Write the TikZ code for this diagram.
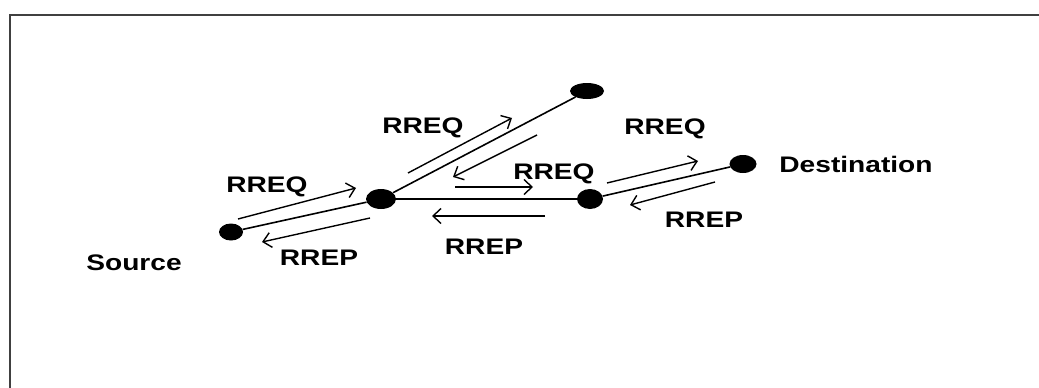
\documentclass[tikz,border=0pt]{standalone}
\usepackage{fontspec}
\newfontfamily\lblfont[FakeStretch=1.25]{Liberation Sans}
\usetikzlibrary{shapes.geometric,arrows.meta}

\tikzset{
  dot/.style={shape=ellipse, fill=black, inner sep=0pt},
  link/.style={line width=1.6pt},
  msg/.style={line width=1.4pt, -{Straight Barb[length=8pt,width=15pt]}},
  lbl/.style={font=\lblfont\bfseries\fontsize{22.5}{22.5}\selectfont,
              inner sep=0pt, text height=16.1pt, text depth=0pt, anchor=center},
}

\begin{document}
\begin{tikzpicture}[x=1pt, y=-1pt]
\useasboundingbox (0,0) rectangle (1039,388);

% frame: top and left edges only
\draw[line width=2.4pt, black!75] (9.7,388) -- (9.7,14.7) -- (1039,14.7);

% network nodes
\node[dot, minimum width=24pt, minimum height=17pt] (src)  at (231,232) {};
\node[dot, minimum width=30pt, minimum height=20pt] (a)    at (381,199) {};
\node[dot, minimum width=34pt, minimum height=16pt] (top)  at (587,91)  {};
\node[dot, minimum width=26pt, minimum height=20pt] (b)    at (590,199) {};
\node[dot, minimum width=27pt, minimum height=18pt] (dest) at (743,164) {};

% links
\draw[link] (src) -- (a);
\draw[link] (a) -- (top);
\draw[line width=2.8pt] (a) -- (b);
\draw[link] (b) -- (dest);

% message arrow end points
\coordinate (q1s) at (238,219); \coordinate (q1e) at (356,188);
\coordinate (p1s) at (370,218); \coordinate (p1e) at (262,242);
\coordinate (q2s) at (408,173); \coordinate (q2e) at (512,118);
\coordinate (p2s) at (537,135); \coordinate (p2e) at (453,177);
\coordinate (q3s) at (455,187); \coordinate (q3e) at (533,187);
\coordinate (p3s) at (545,216); \coordinate (p3e) at (432,216);
\coordinate (q4s) at (607,183); \coordinate (q4e) at (698,161);
\coordinate (p4s) at (715,182); \coordinate (p4e) at (630,205);

% RREQ / RREP messages
\draw[msg] (q1s) -- (q1e);
\draw[msg] (p1s) -- (p1e);
\draw[msg] (q2s) -- (q2e);
\draw[msg] (p2s) -- (p2e);
\draw[msg] (q3s) -- (q3e);
\draw[msg] (p3s) -- (p3e);
\draw[msg] (q4s) -- (q4e);
\draw[msg] (p4s) -- (p4e);

% labels
\node[lbl] (lq1) at (267,184) {RREQ};
\node[lbl] (lp1) at (319,257) {RREP};
\node[lbl] (lq2) at (423,125) {RREQ};
\node[lbl] (lq5) at (665,126) {RREQ};
\node[lbl] (lq3) at (554,171) {RREQ};
\node[lbl] (lp3) at (484,246) {RREP};
\node[lbl] (lp4) at (704,219) {RREP};
\node[lbl] (ldest) at (856,164.5) {Destination};
\node[lbl] (lsrc)  at (134,262) {Source};
\end{tikzpicture}
\end{document}
